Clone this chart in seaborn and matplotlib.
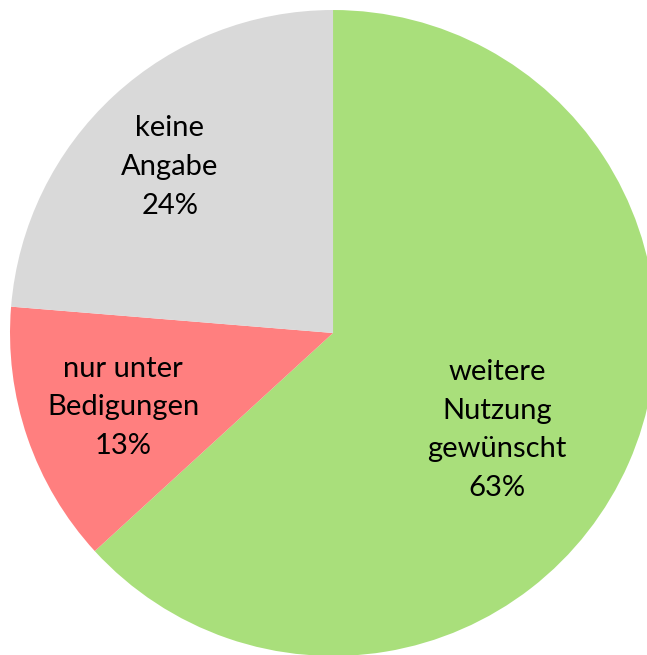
import matplotlib

matplotlib.use("Agg")

import matplotlib.pyplot as plt
import seaborn as sns

LABELS = ["weitere\nNutzung\ngewünscht", "nur unter\nBedigungen", "keine\nAngabe"]
# slice sizes; printed labels are rounded
SHARES = [63.2, 13.1, 23.7]
PCT_LABELS = ["63%", "13%", "24%"]
COLORS = ["#A9DF7B", "#FF7F7F", "#D9D9D9"]

sns.set_theme(style="white")
plt.rcParams["font.family"] = ["Lato", "DejaVu Sans"]

fig = plt.figure(figsize=(6.47, 6.55), dpi=100)
ax = fig.add_axes([0, 0, 1, 1])

wedges, texts = ax.pie(
    SHARES,
    labels=[f"{lab}\n{p}" for lab, p in zip(LABELS, PCT_LABELS)],
    colors=COLORS,
    startangle=90,
    counterclock=False,
    labeldistance=0.70,
    wedgeprops={"linewidth": 0},
    textprops={"fontsize": 21, "color": "black", "ha": "center", "va": "center", "linespacing": 1.6},
)
# Excel nudges the big label a bit lower than the slice middle
texts[0].set_position((0.508, -0.30))
texts[1].set_position((-0.65, -0.23))
texts[2].set_position((-0.505, 0.514))
for t in texts:
    t.set_horizontalalignment("center")

ax.set_aspect("auto")
ax.set_xlim(-1.031, 0.972)
ax.set_ylim(-0.997, 1.031)
ax.axis("off")

fig.savefig("out.png", dpi=100, facecolor="white")
